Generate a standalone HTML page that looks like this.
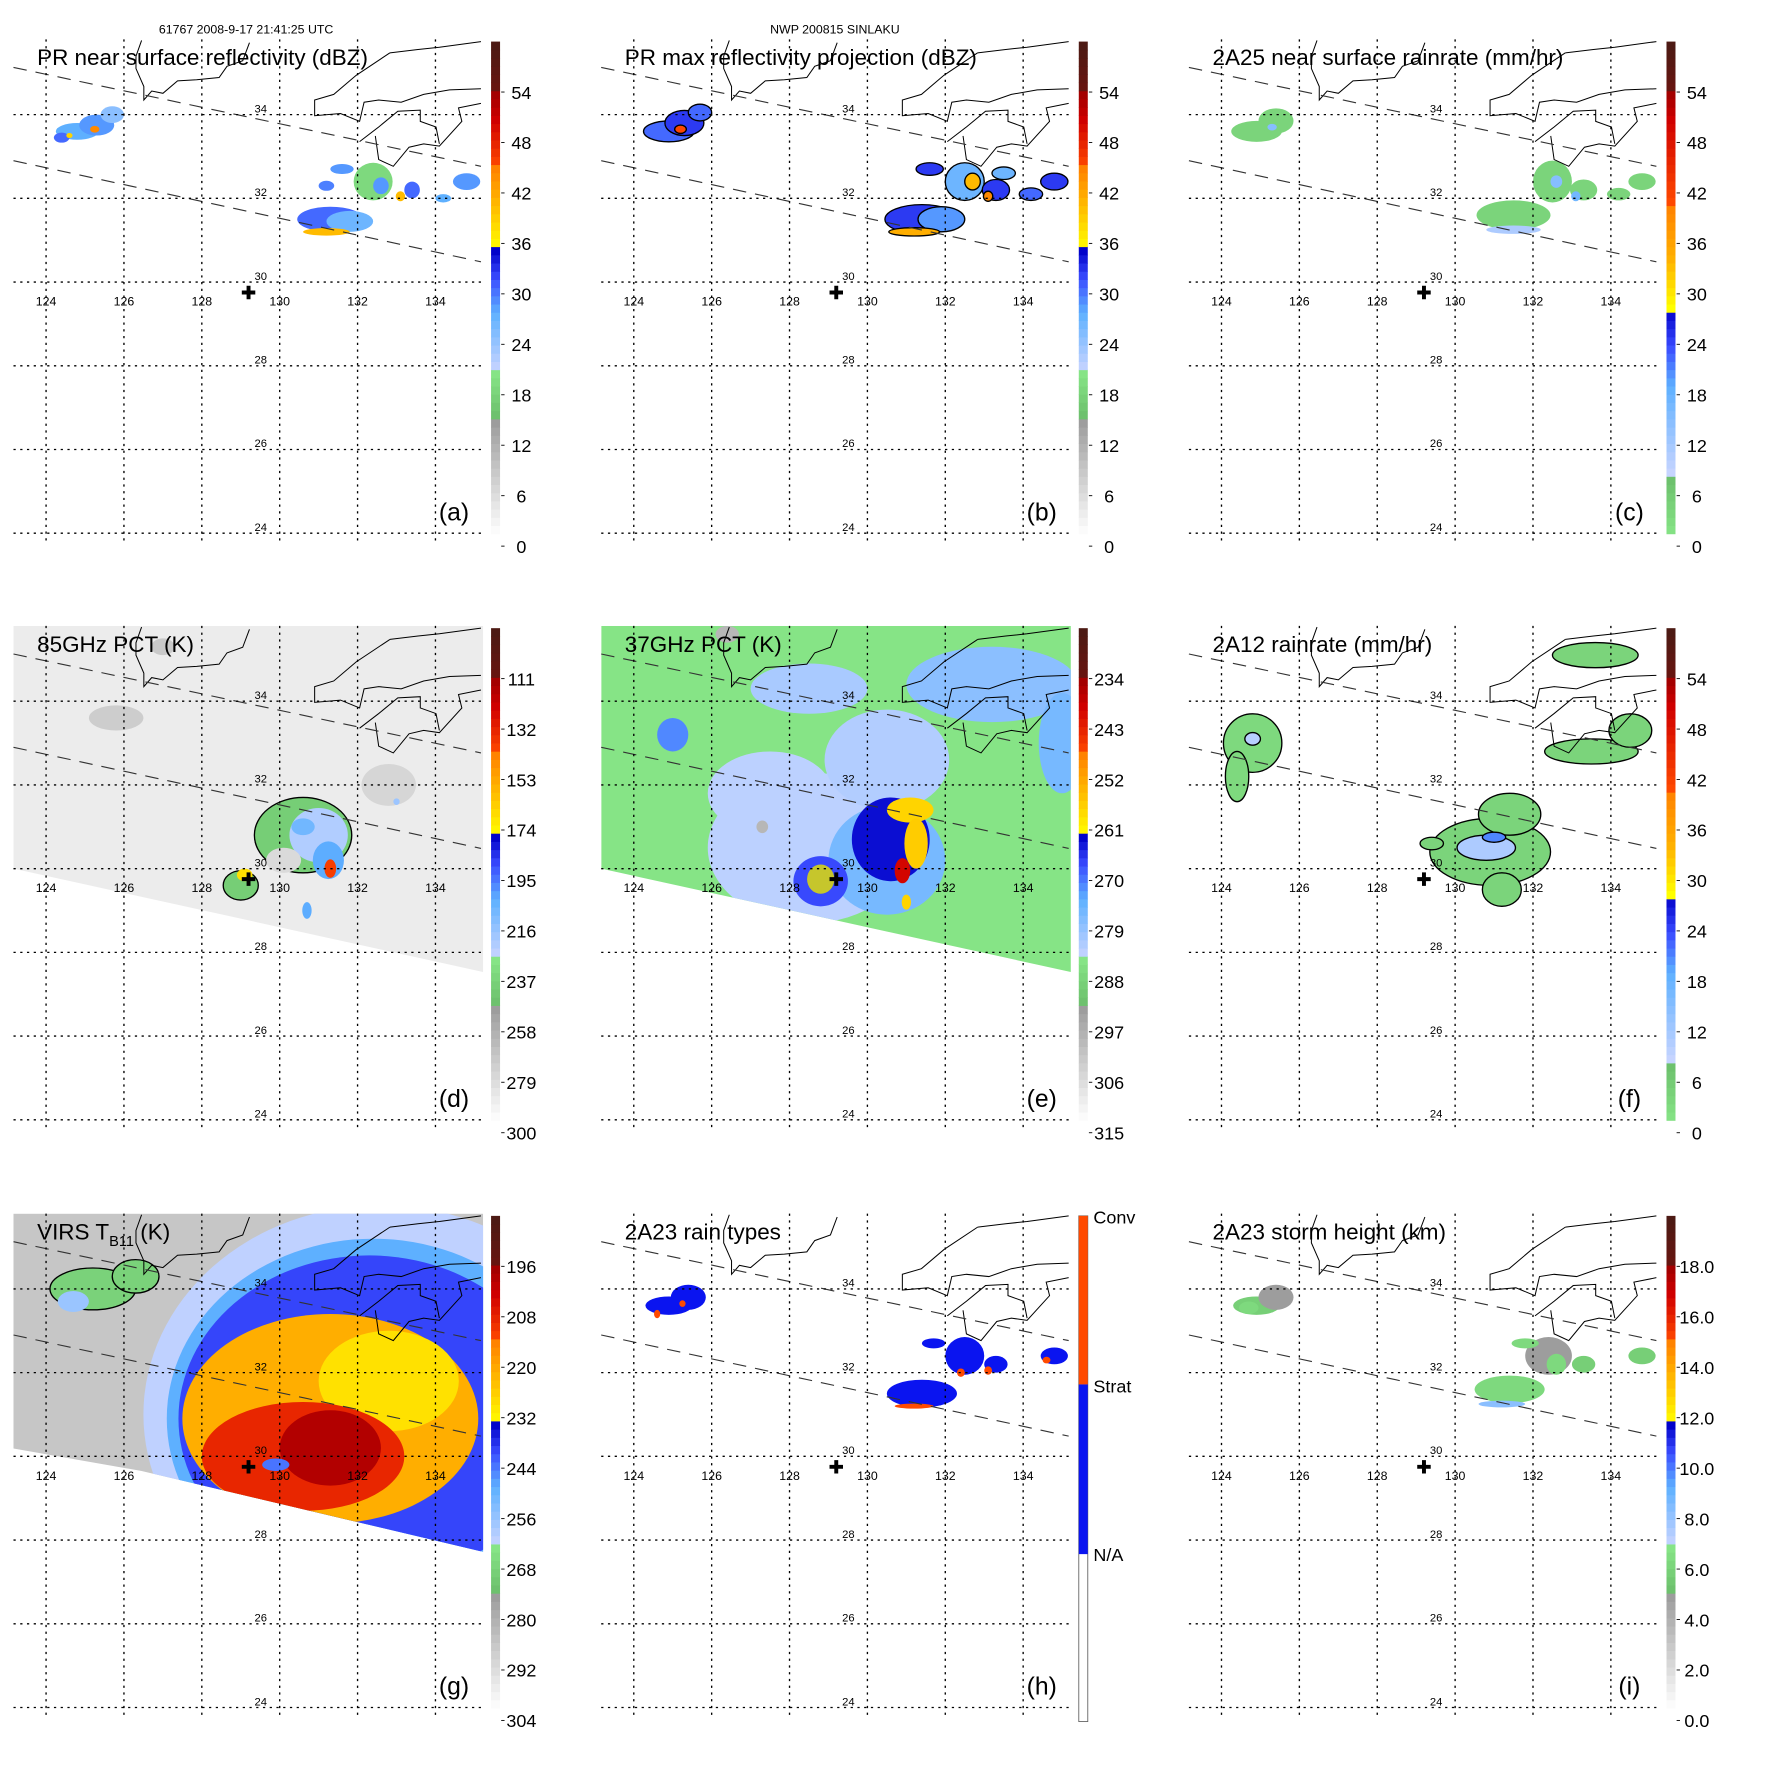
<!DOCTYPE html>
<html><head><meta charset="utf-8"><style>
html,body{margin:0;padding:0;background:#fff}
svg{display:block}
text{font-family:"Liberation Sans",Arial,sans-serif}
</style></head><body>
<svg id="fig" xmlns="http://www.w3.org/2000/svg" width="1771" height="1771" viewBox="0 0 1576 1576">
<defs>
<clipPath id="plotclip"><rect x="12" y="35" width="418" height="452"/></clipPath>
<clipPath id="swathDE"><polygon points="12,35 430,35 430,343 12,251"/></clipPath>
<clipPath id="swathG"><polygon points="12,35 430,35 430,336 126,264 12,244"/></clipPath>
</defs>
<text x="219" y="30" font-size="11" text-anchor="middle">61767 2008-9-17 21:41:25 UTC</text>
<text x="743" y="30" font-size="11" text-anchor="middle">NWP 200815 SINLAKU</text>
</svg>
<script>
// ---------- data ----------
const lonTicks = [124,126,128,130,132,134];
const latTicks = [34,32,30,28,26,24];
const panelIds = ['a','b','c','d','e','f','g','h','i'];
const titles = ['PR near surface reflectivity (dBZ)','PR max reflectivity projection (dBZ)','2A25 near surface rainrate (mm/hr)','85GHz PCT (K)','37GHz PCT (K)','2A12 rainrate (mm/hr)','VIRS T','2A23 rain types','2A23 storm height (km)'];
const cbLabelsA = ['54','48','42','36','30','24','18','12','6','0'];
const cbLabelsD = ['111','132','153','174','195','216','237','258','279','300'];
const cbLabelsE = ['234','243','252','261','270','279','288','297','306','315'];
const cbLabelsG = ['196','208','220','232','244','256','268','280','292','304'];
const cbLabelsI = ['18.0','16.0','14.0','12.0','10.0','8.0','6.0','4.0','2.0','0.0'];
const typeLabels = ['Conv','Strat','N/A'];
const centerLon = 129.2, centerLat = 29.75;
// blobs: [lon, lat, radiusLon, radiusLat, value]
const blobsA = [[124.8,33.6,0.55,0.2,27],[125.3,33.75,0.45,0.25,28],[125.7,34.0,0.3,0.2,24],[124.4,33.45,0.2,0.12,30],[125.25,33.65,0.12,0.08,44],[124.6,33.5,0.08,0.06,38],
 [131.3,31.5,0.85,0.3,30],[131.8,31.45,0.6,0.25,26],[131.2,31.2,0.6,0.09,40],[132.4,32.4,0.5,0.45,18],[132.6,32.3,0.2,0.2,28],[131.6,32.7,0.3,0.12,28],[131.2,32.3,0.2,0.12,29],[133.4,32.2,0.2,0.2,30],[133.1,32.05,0.12,0.12,40],[134.8,32.4,0.35,0.2,28],[134.2,32.0,0.2,0.1,27]];
const blobsB = [[124.9,33.6,0.65,0.25,30],[125.3,33.8,0.5,0.3,32],[125.7,34.05,0.3,0.2,30],[125.2,33.65,0.15,0.1,45],
 [131.4,31.5,0.95,0.35,32],[131.9,31.5,0.6,0.3,28],[131.2,31.2,0.65,0.1,41],[132.5,32.4,0.5,0.45,26],[132.7,32.4,0.2,0.2,40],[131.6,32.7,0.35,0.15,32],[133.3,32.2,0.35,0.25,32],[133.1,32.05,0.12,0.12,44],[134.8,32.4,0.35,0.2,32],[134.2,32.1,0.3,0.15,30],[133.5,32.6,0.3,0.15,26]];
const blobsC = [[124.9,33.6,0.65,0.25,3],[125.4,33.85,0.45,0.3,3],[125.3,33.7,0.12,0.08,14],
 [131.5,31.6,0.95,0.35,3],[131.5,31.25,0.7,0.1,10],[132.5,32.4,0.5,0.5,3],[132.6,32.4,0.15,0.15,14],[133.3,32.2,0.35,0.25,3],[133.1,32.05,0.12,0.12,16],[134.8,32.4,0.35,0.2,3],[134.2,32.1,0.3,0.15,3]];
const blobsD = [[125.8,33.6,0.7,0.3,276],[127.0,35.3,0.3,0.2,274],[132.8,32.0,0.7,0.5,280],
 [130.6,30.8,1.25,0.9,243],[129.0,29.6,0.45,0.35,243],[131.0,30.8,0.75,0.65,225],[130.1,30.2,0.45,0.3,282],[131.25,30.2,0.4,0.45,205],[130.6,31.0,0.3,0.2,210],[131.3,30.0,0.15,0.22,140],[129.1,29.85,0.2,0.15,170],[130.7,29.0,0.12,0.2,205],[133.0,31.6,0.08,0.08,220]];
const blobsE = [[128.5,30.5,2.6,1.8,284],[127.5,31.8,1.6,1.0,284],[130.5,32.6,1.6,1.2,283],[133.2,34.4,2.2,0.9,279],[128.5,34.3,1.5,0.6,282],[135,33.0,0.6,1.2,277],
 [130.5,30.2,1.5,1.3,277],[125.0,33.2,0.4,0.4,272],[128.8,29.7,0.7,0.6,268],[130.6,30.7,1.0,1.0,264],[128.8,29.75,0.35,0.35,263],
 [131.1,31.4,0.6,0.3,258],[131.25,30.6,0.3,0.6,257],[130.9,29.95,0.2,0.3,240],[131.0,29.2,0.12,0.18,258],[126.4,35.6,0.3,0.2,300],[127.3,31.0,0.15,0.15,300]];
const blobsF = [[124.8,33.0,0.75,0.7,2],[124.4,32.2,0.3,0.6,2],[130.9,30.4,1.55,0.8,3],[131.4,31.3,0.8,0.5,3],[131.2,29.5,0.5,0.4,3],[133.5,32.8,1.2,0.3,3],[134.5,33.3,0.55,0.4,3],[133.6,35.1,1.1,0.3,3],[129.4,30.6,0.3,0.15,3],
 [130.8,30.5,0.75,0.3,10],[131.0,30.75,0.3,0.12,20],[124.8,33.1,0.2,0.15,9]];
const blobsG = [[132.6,31.0,6.1,5.0,263],[132.4,30.9,5.3,4.3,250],[132.3,30.9,4.9,3.9,241],[131.3,30.9,3.8,2.5,222],[132.8,31.8,1.8,1.2,230],[130.6,30.0,2.6,1.3,209],[131.3,30.2,1.3,0.9,199],[129.9,29.8,0.35,0.15,245],[125.2,34.0,1.1,0.5,270],[126.3,34.3,0.6,0.4,270],[124.7,33.7,0.4,0.25,258]];
const blobsH = [[124.9,33.6,0.6,0.22,1],[125.4,33.8,0.45,0.3,1],[124.6,33.4,0.08,0.1,2],[125.25,33.65,0.08,0.08,2],
 [131.4,31.5,0.9,0.33,1],[132.5,32.4,0.5,0.45,1],[133.3,32.2,0.3,0.2,1],[134.8,32.4,0.35,0.2,1],[131.7,32.7,0.3,0.12,1],[131.2,31.2,0.5,0.06,2],[132.4,32.0,0.1,0.1,2],[133.1,32.05,0.1,0.1,2],[134.6,32.3,0.1,0.08,2]];
const blobsI = [[124.9,33.6,0.6,0.22,5.5],[125.4,33.8,0.45,0.3,4.5],[124.7,33.55,0.25,0.15,6],
 [131.4,31.6,0.9,0.33,6],[132.4,32.4,0.6,0.45,4.5],[132.6,32.2,0.25,0.25,6],[131.2,31.25,0.6,0.08,8],[133.3,32.2,0.3,0.2,5.5],[134.8,32.4,0.35,0.2,5.5],[131.8,32.7,0.35,0.12,6]];

// ---------- helpers ----------
const NS='http://www.w3.org/2000/svg';
const svg=document.getElementById('fig');
function el(tag,attrs,parent){const e=document.createElementNS(NS,tag);for(const k in attrs)e.setAttribute(k,attrs[k]);(parent||svg).appendChild(e);return e;}
const xLon=lon=>41+(lon-124)*34.65;
const yLat=lat=>251-(lat-30)*37.25;
function hex(c){return [parseInt(c.substr(1,2),16),parseInt(c.substr(3,2),16),parseInt(c.substr(5,2),16)];}
function interp(stops,t){t=Math.max(0,Math.min(1,t));for(let i=0;i<stops.length-1;i++){const a=stops[i],b=stops[i+1];if(t>=a[0]&&t<=b[0]){const f=b[0]===a[0]?0:(t-a[0])/(b[0]-a[0]);const A=hex(a[1]),B=hex(b[1]);return 'rgb('+A.map((v,j)=>Math.round(v+(B[j]-v)*f)).join(',')+')';}}return stops[stops.length-1][1];}
const stdStops=[[0,'#ffffff'],[0.235,'#999999'],[0.236,'#6cbf6c'],[0.326,'#86e486'],[0.327,'#ccd6ff'],[0.45,'#5eb0ff'],[0.52,'#3a4cff'],[0.577,'#0000c8'],[0.578,'#ffff00'],[0.66,'#ffc000'],[0.745,'#ff8000'],[0.746,'#ff4a00'],[0.84,'#d00000'],[0.896,'#a00000'],[0.897,'#6a1410'],[1,'#4a1a14']];
const rainStops=[[0,'#86e486'],[0.114,'#6cbf6c'],[0.115,'#ccd6ff'],[0.3,'#5eb0ff'],[0.38,'#3a4cff'],[0.457,'#0000c8'],[0.458,'#ffff00'],[0.56,'#ffb000'],[0.67,'#ff8000'],[0.671,'#ff4a00'],[0.84,'#d00000'],[0.896,'#a00000'],[0.897,'#6a1410'],[1,'#4a1a14']];

const cfg={
 a:{blobs:blobsA,stops:stdStops,tf:v=>v/60,labels:cbLabelsA},
 b:{blobs:blobsB,stops:stdStops,tf:v=>v/60,labels:cbLabelsA,outline:true},
 c:{blobs:blobsC,stops:rainStops,tf:v=>v/60,labels:cbLabelsA},
 d:{blobs:blobsD,stops:stdStops,tf:v=>(300-v)/210,labels:cbLabelsD,bg:'#ececec',clip:'swathDE',outline:true},
 e:{blobs:blobsE,stops:stdStops,tf:v=>(315-v)/90,labels:cbLabelsE,bg:'#86e486',clip:'swathDE'},
 f:{blobs:blobsF,stops:rainStops,tf:v=>v/60,labels:cbLabelsA,outline:true},
 g:{blobs:blobsG,stops:stdStops,tf:v=>(304-v)/120,labels:cbLabelsG,bg:'#c6c6c6',clip:'swathG',outline:true},
 h:{blobs:blobsH,type:true},
 i:{blobs:blobsI,stops:stdStops,tf:v=>v/20,labels:cbLabelsI}
};
const coast=["M126,36 L121,50 L121,61 L128,77 L128,89 L135,81 L145,83 L158,72 L175,71 L195,69 L202,59 L216,54 L222,38",
"M347,47 L372,44 L391,42 L428,37","M347,47 L317,67 L297,84 L280,89 L280,103 L303,101 L320,108 L324,91 L337,89 L357,91 L377,84 L400,80 L428,79",
"M320,126 L337,113 L354,99 L374,98 L374,108 L388,113 L391,128","M334,121 L337,142 L350,148 L364,131 L377,128 L391,130 L411,108 L408,96 L428,92"];

panelIds.forEach((id,k)=>{
 const dx=[0,523,1046][k%3], dy=[0,522,1045][Math.floor(k/3)];
 const C=cfg[id];
 const g=el('g',{transform:`translate(${dx},${dy})`});
 
 
 const plot=el('g',{'clip-path':'url(#'+(C.clip||'plotclip')+')'},g);
 
 
 if(C.bg){const r=el('rect',{x:12,y:35,width:418,height:320,fill:C.bg},plot);
  
  }
 C.blobs.forEach(b=>{
  let fill;
  if(C.type) fill=b[4]===2?'#ff4a00':'#0a14f0';
  else fill=interp(C.stops,C.tf(b[4]));
  const e=el('ellipse',{cx:xLon(b[0]),cy:yLat(b[1]),rx:b[2]*34.65,ry:b[3]*37.25,fill:fill},plot);
  if(C.outline&&!C.bg) {e.setAttribute('stroke','#000');e.setAttribute('stroke-width','1.2');}
  if(C.outline&&C.bg&&C.tf(b[4])>0.23&&C.tf(b[4])<0.33){e.setAttribute('stroke','#000');e.setAttribute('stroke-width','1.2');}
  
  
 });
 coast.forEach(d=>{const p=el('path',{d:d,fill:'none',stroke:'#000','stroke-width':0.9},g);
  
  });
 [[12,60,428,148],[12,143,428,233]].forEach(s=>{const l=el('line',{x1:s[0],y1:s[1],x2:s[2],y2:s[3],stroke:'#333','stroke-width':1,'stroke-dasharray':'12,8'},g);
  
  });
 lonTicks.forEach(lon=>{const x=xLon(lon);
  const l=el('line',{x1:x,y1:35,x2:x,y2:485,stroke:'#000','stroke-width':1.2,'stroke-dasharray':'2,4'},g);
  
  
  const t=el('text',{x:x,y:272,'font-size':11,'text-anchor':'middle'},g);t.textContent=lon;
  
  });
 latTicks.forEach(lat=>{const y=yLat(lat);
  const l=el('line',{x1:12,y1:y,x2:430,y2:y,stroke:'#000','stroke-width':1.2,'stroke-dasharray':'2,4'},g);
  
  
  const t=el('text',{x:232,y:y-2,'font-size':10,'text-anchor':'middle'},g);t.textContent=lat;
  
  });
 const cx=xLon(centerLon), cy=yLat(centerLat);
 const cr=el('path',{d:`M${cx-6},${cy} H${cx+6} M${cx},${cy-6} V${cy+6}`,stroke:'#000','stroke-width':3.5},g);
 
 
 const tt=el('text',{x:33,y:58,'font-size':20},g);
 
 
 if(id==='g'){tt.textContent='VIRS T';const s=el('tspan',{'font-size':13,dy:6},tt);s.textContent='B11';const s2=el('tspan',{dy:-6},tt);s2.textContent=' (K)';}
 else tt.textContent=titles[k];
 const pl=el('text',{x:404,y:463,'font-size':22,'text-anchor':'middle'},g);pl.textContent='('+id+')';
 
 
 const cb=el('g',{},g);
 
 
 if(C.type){
  el('rect',{x:437,y:37,width:8,height:450,fill:'#fff',stroke:'#666','stroke-width':0.8},cb);
  el('rect',{x:437,y:37,width:8,height:150,fill:'#ff4a00'},cb);
  el('rect',{x:437,y:187,width:8,height:151,fill:'#0a14f0'},cb);
  typeLabels.forEach((s,i)=>{const t=el('text',{x:450,y:44+i*150,'font-size':16},cb);t.textContent=s;
   
   });
 } else {
  const n=60, h=438/n;
  for(let i=0;i<n;i++){el('rect',{x:437,y:475-(i+1)*h,width:8,height:h+0.4,fill:interp(C.stops,(i+0.5)/n)},cb);}
  C.labels.forEach((s,i)=>{const y=486-(9-i)*44.9;
   el('line',{x1:446,y1:y,x2:449,y2:y,stroke:'#000','stroke-width':0.8},cb);
   const t=el('text',{x:464,y:y+6,'font-size':16,'text-anchor':'middle'},cb);t.textContent=s;
   
   });
 }
});
</script>
</body></html>
